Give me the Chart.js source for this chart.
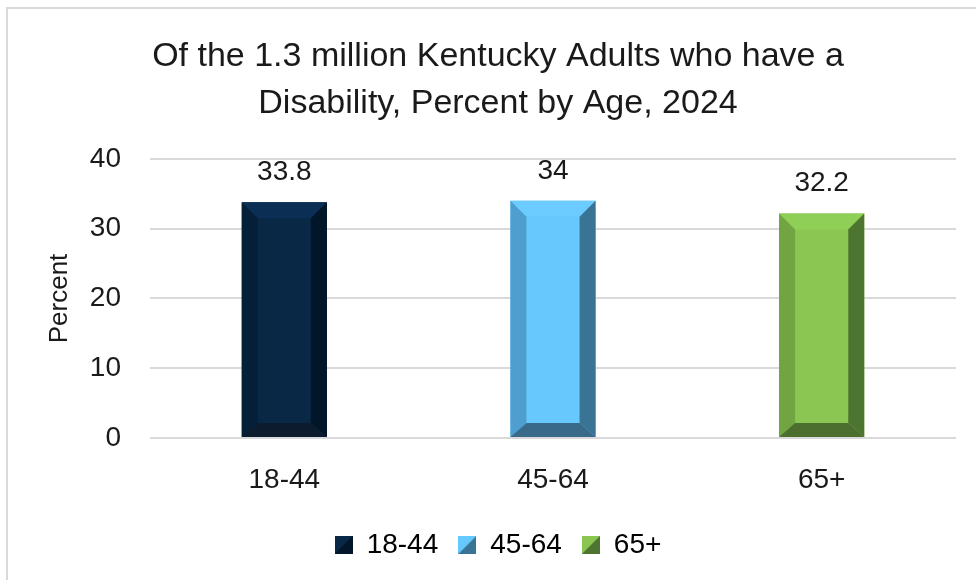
<!DOCTYPE html>
<html>
<head>
  <title>Kentucky Adults with a Disability by Age</title>
  <script src="https://cdn.jsdelivr.net/npm/chart.js"></script>
  <style>
    body { margin: 0; background: #fff; overflow: hidden; }
    .frame {
      position: absolute; left: 6px; top: 7px;
      width: 1000px; height: 600px;
      border: 2px solid #d9d9d9;
    }
    #chart_ky { position: absolute; left: 0; top: 0; }
  </style>
</head>
<body>
  <div class="frame"></div>
  <canvas id="chart_ky" width="976" height="580"></canvas>

  <script>
    const ageGroups = ['18-44', '45-64', '65+'];
    const percents = [33.8, 34, 32.2];
    const yTicks = [0, 10, 20, 30, 40];

    // face, top, left, right, bottom shades for each bar
    const faceColors = ['#082846', '#66c8fc', '#8bc653'];
    const topColors = ['#0b2e55', '#6ccbff', '#90cf56'];
    const leftColors = ['#061f38', '#4f9ed0', '#72a441'];
    const rightColors = ['#011629', '#3a7494', '#4e7530'];
    const bottomColors = ['#0c1c2e', '#3a6a8a', '#4c6e2e'];

    const FONT = "'Liberation Sans', Arial, sans-serif";

    // little two-tone squares for the legend
    function legendIcon(i) {
      const c = document.createElement('canvas');
      c.width = 18; c.height = 18;
      const g = c.getContext('2d');
      g.fillStyle = faceColors[i];
      g.fillRect(0, 0, 18, 18);
      g.fillStyle = rightColors[i];
      g.beginPath();
      g.moveTo(18, 0); g.lineTo(18, 18); g.lineTo(0, 18);
      g.closePath(); g.fill();
      return c;
    }

    // bevelled edges drawn over every bar
    const bevelPlugin = {
      id: 'bevel',
      afterDatasetsDraw(chart) {
        const ctx = chart.ctx;
        const meta = chart.getDatasetMeta(0);
        meta.data.forEach((bar, i) => {
          const l = bar.x - bar.width / 2, r = bar.x + bar.width / 2;
          const t = bar.y, b = bar.base;
          const s = 16, sb = 14;
          const poly = (pts, col) => {
            ctx.fillStyle = col;
            ctx.beginPath();
            ctx.moveTo(pts[0][0], pts[0][1]);
            pts.slice(1).forEach(p => ctx.lineTo(p[0], p[1]));
            ctx.closePath();
            ctx.fill();
          };
          ctx.save();
          poly([[l, t], [r, t], [r - s, t + s], [l + s, t + s]], topColors[i]);
          poly([[l, t], [l + s, t + s], [l + s, b - sb], [l, b]], leftColors[i]);
          poly([[r, t], [r, b], [r - s, b - sb], [r - s, t + s]], rightColors[i]);
          poly([[l, b], [l + s, b - sb], [r - s, b - sb], [r, b]], bottomColors[i]);
          ctx.restore();
        });
      }
    };

    // value printed above each bar
    const valueLabels = {
      id: 'valueLabels',
      afterDatasetsDraw(chart) {
        const ctx = chart.ctx;
        const meta = chart.getDatasetMeta(0);
        ctx.save();
        ctx.font = '28px ' + FONT;
        ctx.fillStyle = '#1a1a1a';
        ctx.textAlign = 'center';
        ctx.textBaseline = 'middle';
        meta.data.forEach((bar, i) => {
          ctx.fillText(String(percents[i]), bar.x, bar.y - 30);
        });
        ctx.restore();
      }
    };

    new Chart(document.getElementById('chart_ky').getContext('2d'), {
      type: 'bar',
      data: {
        labels: ageGroups,
        datasets: [{
          data: percents,
          backgroundColor: faceColors,
          categoryPercentage: 1,
          barPercentage: 0.317
        }]
      },
      options: {
        responsive: false,
        animation: false,
        layout: { padding: { left: 40, right: 20, top: 0, bottom: 11 } },
        plugins: {
          title: {
            display: true,
            text: ['Of the 1.3 million Kentucky Adults who have a', 'Disability, Percent by Age, 2024'],
            color: '#1a1a1a',
            font: { family: FONT, size: 34, weight: 'normal', lineHeight: 1.382 },
            padding: { top: 33, bottom: 32 }
          },
          legend: {
            position: 'bottom',
            labels: {
              color: '#1a1a1a',
              font: { family: FONT, size: 28 },
              usePointStyle: true,
              boxWidth: 18,
              boxHeight: 18,
              padding: 20,
              generateLabels: () => ageGroups.map((g, i) => ({
                text: g,
                pointStyle: legendIcon(i),
                fillStyle: faceColors[i],
                strokeStyle: faceColors[i],
                lineWidth: 0,
                index: i,
                datasetIndex: 0
              }))
            }
          },
          tooltip: { enabled: false }
        },
        scales: {
          x: {
            grid: { display: false },
            border: { display: false },
            ticks: { color: '#1a1a1a', font: { family: FONT, size: 28 }, padding: 17 },
            afterFit(scale) { scale.height = 73; }
          },
          y: {
            min: 0,
            max: 40,
            afterBuildTicks(scale) { scale.ticks = yTicks.map(v => ({ value: v })); },
            grid: { color: '#d9d9d9', lineWidth: 2, drawTicks: false },
            border: { display: false },
            ticks: { color: '#1a1a1a', font: { family: FONT, size: 28 }, padding: 29 },
            title: {
              display: true,
              text: 'Percent',
              color: '#1a1a1a',
              font: { family: FONT, size: 26 },
              padding: { top: 4 }
            },
            afterFit(scale) { scale.width = 110; }
          }
        }
      },
      plugins: [bevelPlugin, valueLabels]
    });
  </script>
</body>
</html>
